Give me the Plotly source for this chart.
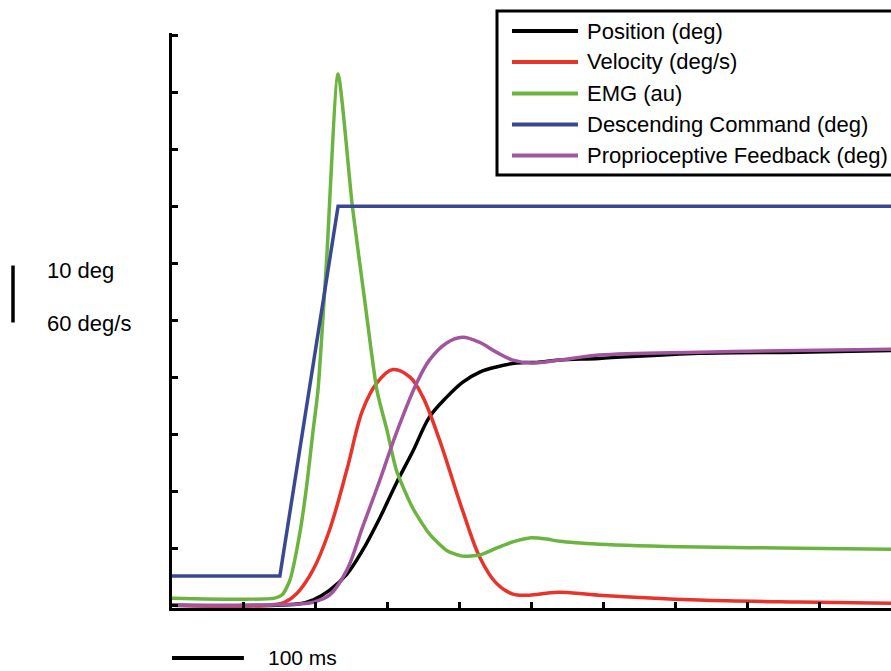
import plotly.graph_objects as go

# ---- data (time in ms) ----
pos_t = [0, 178, 196, 219, 243, 265, 289, 312, 335, 358, 382, 404, 428, 451, 479, 507, 539, 594, 733, 872, 1000]
pos_v = [0, 0.25, 0.9, 2.6, 5.4, 9.6, 15.3, 21.4, 27.0, 33.0, 36.5, 39.1, 40.9, 41.8, 42.5, 42.6, 43.0, 43.3, 44.2, 44.4, 44.7]

vel_t = [0, 136, 157, 174, 196, 219, 243, 265, 285, 307, 331, 349, 372, 404, 428, 451, 474, 497, 521, 539, 594, 733, 872, 1000]
vel_v = [0, 0, 3.2, 12.6, 36.8, 78.9, 142, 205, 234, 248, 240, 219, 174, 100, 50.5, 23.2, 11.6, 10.5, 12.6, 13.7, 10.5, 5.3, 3.2, 2.1]  # deg/s

emg_t = [0, 143, 154, 164, 178, 188, 196, 203, 215, 231, 251, 268, 285, 299, 312, 335, 358, 382, 404, 428, 451, 474, 497, 521, 539, 594, 733, 872, 1000]
emg_v = [1.23, 1.23, 1.93, 4.4, 12.8, 21.6, 30.4, 37.7, 60.5, 93.2, 69.8, 53.5, 37.7, 30.7, 23.7, 17.0, 12.5, 9.6, 8.6, 8.8, 10.0, 11.1, 11.8, 11.6, 11.2, 10.7, 10.2, 10.0, 9.8]

cmd_t = [0, 150, 231, 1000]
cmd_v = [5.1, 5.1, 70.0, 70.0]

prop_t = [0, 178, 196, 219, 243, 265, 289, 312, 340, 358, 382, 404, 428, 451, 474, 501, 539, 594, 733, 872, 1000]
prop_v = [0, 0.2, 0.5, 1.75, 6.1, 13.7, 21.9, 30.2, 38.9, 43.0, 46.0, 47.0, 46.1, 44.4, 43.0, 42.5, 43.0, 43.9, 44.4, 44.7, 44.9]

names = ["Position (deg)", "Velocity (deg/s)", "EMG (au)", "Descending Command (deg)", "Proprioceptive Feedback (deg)"]
colors = ["#000000", "#E8332B", "#6BB43F", "#3A4893", "#A0559E"]

DEG_PER_TICK = 10
VEL_PER_TICK = 60
vel_scale = DEG_PER_TICK / VEL_PER_TICK

series = [
    (pos_t, pos_v, "spline", 1.0),
    (vel_t, [v * vel_scale for v in vel_v], "spline", 1.0),
    (emg_t, emg_v, "spline", 0.6),
    (cmd_t, cmd_v, "linear", 0),
    (prop_t, prop_v, "spline", 1.0),
]

fig = go.Figure()
for (t, v, shp, sm), name, c in zip(series, names, colors):
    line = dict(color=c, width=3.5, shape=shp)
    if shp == "spline":
        line["smoothing"] = sm
    fig.add_trace(go.Scatter(x=t, y=v, mode="lines", name=name, line=line, showlegend=False))

W, H = 891, 671
ML, MR, MT, MB = 172, 0, 33, 63
PW, PH = W - ML - MR, H - MT - MB

def px_x(p):
    return (p - ML) / PW

def px_y(p):
    return (H - MB - p) / PH

font = "Liberation Sans, Arial, sans-serif"
FS = 22
shapes = []
annotations = []

# manual legend
shapes.append(dict(type="rect", xref="paper", yref="paper",
                   x0=px_x(497), x1=px_x(900), y0=px_y(175), y1=px_y(11),
                   line=dict(color="black", width=3), fillcolor="white", layer="above"))
rows = [31, 62, 93.5, 124.5, 155.5]
for name, c, r in zip(names, colors, rows):
    shapes.append(dict(type="line", xref="paper", yref="paper",
                       x0=px_x(512), x1=px_x(578), y0=px_y(r), y1=px_y(r),
                       line=dict(color=c, width=4), layer="above"))
    annotations.append(dict(text=name, xref="paper", yref="paper", x=px_x(585), y=px_y(r),
                            xanchor="left", yanchor="middle", showarrow=False,
                            font=dict(family=font, size=FS, color="black")))

# scale bars
shapes.append(dict(type="line", xref="paper", yref="y", x0=px_x(13), x1=px_x(13),
                   y0=49.6, y1=49.6 + DEG_PER_TICK, line=dict(color="black", width=3.5)))
annotations.append(dict(text="%d deg" % DEG_PER_TICK, xref="paper", yref="y", x=px_x(45), y=58.8,
                        xanchor="left", yanchor="middle", showarrow=False,
                        font=dict(family=font, size=FS, color="black")))
annotations.append(dict(text="%d deg/s" % VEL_PER_TICK, xref="paper", yref="y", x=px_x(45), y=49.4,
                        xanchor="left", yanchor="middle", showarrow=False,
                        font=dict(family=font, size=FS, color="black")))
shapes.append(dict(type="line", xref="x", yref="paper", x0=0, x1=100,
                   y0=px_y(658), y1=px_y(658), line=dict(color="black", width=4)))
annotations.append(dict(text="100 ms", xref="x", yref="paper", x=131, y=px_y(657),
                        xanchor="left", yanchor="middle", showarrow=False,
                        font=dict(family=font, size=21, color="black")))

axis_common = dict(showline=True, linecolor="black", linewidth=3, ticks="inside",
                   ticklen=6, tickwidth=3, tickcolor="black", showticklabels=False,
                   showgrid=False, zeroline=False, fixedrange=True)

fig.update_layout(
    width=W, height=H,
    margin=dict(l=ML, r=MR, t=MT, b=MB),
    paper_bgcolor="white", plot_bgcolor="white",
    xaxis=dict(range=[0, 1000], dtick=100, tick0=0, **axis_common),
    yaxis=dict(range=[-0.5, 100.4], dtick=10, tick0=0, **axis_common),
    shapes=shapes, annotations=annotations, showlegend=False,
)

fig.write_html("out.html")
